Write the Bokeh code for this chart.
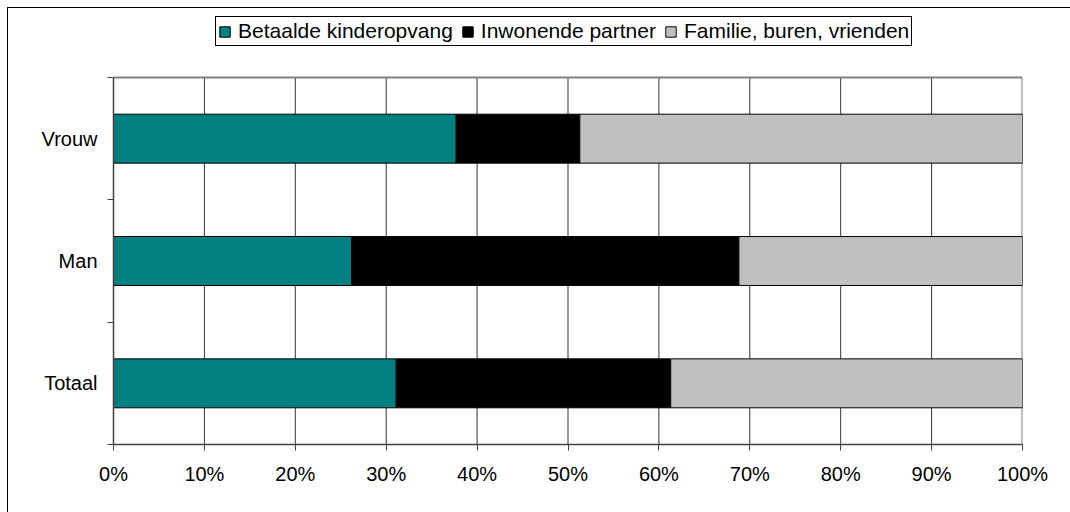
from bokeh.plotting import figure
from bokeh.models import FixedTicker, Legend, LegendItem, Range1d, ColumnDataSource
from bokeh.embed import file_html
from bokeh.resources import INLINE

# ---- data ----
categories = ["Totaal", "Man", "Vrouw"]
betaalde = [31.1, 26.2, 37.7]
inwonende = [30.2, 42.6, 13.6]
familie = [38.7, 31.2, 48.7]
series_names = ["Betaalde kinderopvang", "Inwonende partner", "Familie, buren, vrienden"]
series_colors = ["#008080", "#000000", "#C0C0C0"]
x_ticks = [0, 10, 20, 30, 40, 50, 60, 70, 80, 90, 100]
x_tick_labels = ["0%", "10%", "20%", "30%", "40%", "50%", "60%", "70%", "80%", "90%", "100%"]

# ---- layout (pixels) ----
FIG_W, FIG_H = 1062, 504
BORDER_L, BORDER_R, BORDER_B = 105, 48, 68
PLOT_AREA_H = 367                     # height of the bar area below the legend band
FRAME_H = FIG_H - BORDER_B            # frame reaches the top so the legend is not clipped

n = len(categories)
centers = [i + 0.5 for i in range(n)]
bounds = list(range(n + 1))
x_min, x_max = x_ticks[0], x_ticks[-1]

source = ColumnDataSource(dict(y=centers, s0=betaalde, s1=inwonende, s2=familie))

p = figure(width=FIG_W, height=FIG_H,
           x_range=Range1d(x_min, x_max), y_range=Range1d(0, n * FRAME_H / PLOT_AREA_H),
           output_backend="svg", toolbar_location=None,
           min_border_left=BORDER_L, min_border_right=BORDER_R,
           min_border_top=0, min_border_bottom=BORDER_B)
p.styles = {"margin-left": "8px", "margin-top": "8px", "outline": "1px solid black"}
p.background_fill_color = "white"
p.border_fill_color = "white"
p.outline_line_color = None
p.xgrid.grid_line_color = None
p.ygrid.grid_line_color = None

# vertical grid lines limited to the bar area
inner = x_ticks[1:-1]
p.segment(x0=inner, y0=[0] * len(inner), x1=inner, y1=[n] * len(inner),
          line_color="#333333", line_width=1)
# plot-area border (top and right)
p.segment(x0=[x_min, x_max], y0=[n, 0], x1=[x_max, x_max], y1=[n, n],
          line_color="#808080", line_width=2)

renderers = p.hbar_stack(["s0", "s1", "s2"], y="y", height=0.4, source=source,
                         fill_color=series_colors, line_color="black", line_width=1)

# x axis
xa = p.xaxis[0]
xa.ticker = FixedTicker(ticks=x_ticks)
xa.major_label_overrides = {t: l for t, l in zip(x_ticks, x_tick_labels)}
xa.major_tick_out = 6
xa.major_tick_in = 0
xa.minor_tick_line_color = None
xa.axis_line_color = "#404040"
xa.axis_line_width = 1.5
xa.major_tick_line_color = "#404040"
xa.major_label_text_font = "Liberation Sans"
xa.major_label_text_font_size = "20px"
xa.major_label_text_color = "black"
xa.major_label_standoff = 12

# y axis
ya = p.yaxis[0]
ya.bounds = (0, n)
ya.ticker = FixedTicker(ticks=centers, minor_ticks=bounds)
ya.major_label_overrides = {c: name for c, name in zip(centers, categories)}
ya.major_tick_out = 0
ya.major_tick_in = 0
ya.minor_tick_out = 6
ya.minor_tick_in = 0
ya.minor_tick_line_color = "#404040"
ya.axis_line_color = "#404040"
ya.axis_line_width = 1.5
ya.major_label_text_font = "Liberation Sans"
ya.major_label_text_font_size = "20px"
ya.major_label_text_color = "black"
ya.major_label_standoff = 10

legend = Legend(items=[LegendItem(label=s, renderers=[r]) for s, r in zip(series_names, renderers)],
                location=(102, 398), orientation="horizontal",
                border_line_color="black", border_line_width=1, border_line_alpha=1,
                background_fill_color="white", background_fill_alpha=1,
                label_text_font="Liberation Sans", label_text_font_size="21px",
                label_text_color="black",
                glyph_width=13, glyph_height=13, label_standoff=7,
                spacing=8, padding=2, margin=0)
p.add_layout(legend)

open("out.html", "w").write(file_html(p, INLINE))
